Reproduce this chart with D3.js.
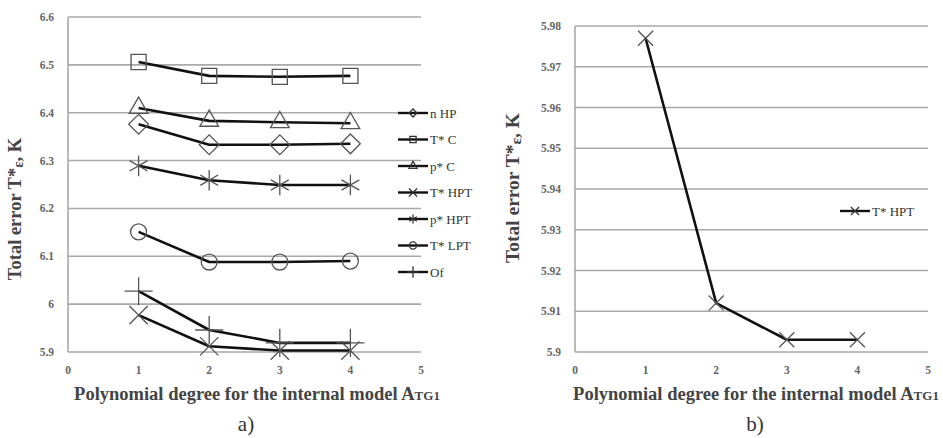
<!DOCTYPE html>
<html><head><meta charset="utf-8">
<script src="https://cdn.jsdelivr.net/npm/d3@7"></script>
<style>
html,body{margin:0;padding:0;background:#fff;}
svg text{font-family:"Liberation Serif","Times New Roman","DejaVu Serif",serif;}
</style></head>
<body><svg id="c" width="943" height="438"></svg>
<script>
// ---- data ----
const degrees = [1, 2, 3, 4];
const xTicks = [0, 1, 2, 3, 4, 5];
const yTicksA = [5.9, 6.0, 6.1, 6.2, 6.3, 6.4, 6.5, 6.6];
const yTickLabelsA = ["5.9", "6", "6.1", "6.2", "6.3", "6.4", "6.5", "6.6"];
const yTicksB = [5.9, 5.91, 5.92, 5.93, 5.94, 5.95, 5.96, 5.97, 5.98];
const yTickLabelsB = ["5.9", "5.91", "5.92", "5.93", "5.94", "5.95", "5.96", "5.97", "5.98"];
const seriesNames = ["n HP", "T* C", "p* C", "T* HPT", "p* HPT", "T* LPT", "Of"];
const nHP   = [6.376, 6.333, 6.333, 6.335];
const TC    = [6.506, 6.477, 6.475, 6.477];
const pC    = [6.410, 6.383, 6.380, 6.378];
const THPT  = [5.977, 5.912, 5.903, 5.903];
const pHPT  = [6.289, 6.259, 6.249, 6.249];
const TLPT  = [6.151, 6.088, 6.088, 6.090];
const Of    = [6.027, 5.946, 5.919, 5.919];
const seriesValues = [nHP, TC, pC, THPT, pHPT, TLPT, Of];
const seriesB = THPT;

const svg = d3.select("#c");
const FONT = '"Liberation Serif","Times New Roman","DejaVu Serif",serif';
const gridColor = "#a9a9a9";
const markerTypes = [d3.symbolDiamond2, d3.symbolSquare2, d3.symbolTriangle2, d3.symbolTimes, d3.symbolAsterisk, d3.symbolCircle, d3.symbolPlus];
const markerSizes = [250, 290, 250, 220, 300, 200, 260];
const legendSizes = [40, 50, 45, 45, 55, 40, 45];

function panel(opts){
  const x = d3.scaleLinear().domain([0,5]).range([opts.x0, opts.x1]);
  const y = d3.scaleLinear().domain(opts.ydom).range([opts.y0, opts.y1]);
  const g = svg.append("g").attr("font-family", FONT);
  g.selectAll(".grid").data(opts.yticks).join("line")
    .attr("x1", opts.x0).attr("x2", opts.x1)
    .attr("y1", d=>y(d)).attr("y2", d=>y(d))
    .attr("stroke", gridColor).attr("stroke-width", 1.6);
  g.append("line").attr("x1", opts.x0).attr("x2", opts.x0)
    .attr("y1", y(opts.ydom[0])).attr("y2", y(opts.ydom[1]))
    .attr("stroke", gridColor).attr("stroke-width", 1.6);
  g.selectAll(".yl").data(opts.yticks).join("text")
    .attr("x", opts.x0 - 14).attr("y", d=>y(d)+4)
    .attr("text-anchor","end").attr("font-size", 11.5).attr("font-weight","bold").attr("fill","#666")
    .attr("font-family", FONT)
    .text((d,i)=>opts.ylabels[i]);
  g.selectAll(".xl").data(xTicks).join("text")
    .attr("x", d=>x(d)).attr("y", y(opts.ydom[0])+22)
    .attr("text-anchor","middle").attr("font-size", 11.5).attr("font-weight","bold").attr("fill","#666")
    .attr("font-family", FONT)
    .text(d=>d);
  const xt = g.append("text").attr("x", opts.xtx).attr("y", 400)
    .attr("text-anchor","middle").attr("font-size", 18.5).attr("font-weight","bold").attr("fill","#444")
    .attr("font-family", FONT);
  xt.append("tspan").text("Polynomial  degree for the internal model A");
  xt.append("tspan").attr("font-size", 13).text("TG1");
  const yt = g.append("text").attr("transform", `translate(${opts.ytx},${opts.yty}) rotate(-90)`)
    .attr("text-anchor","middle").attr("font-size", opts.ytfs).attr("font-weight","bold").attr("fill","#444")
    .attr("font-family", FONT);
  yt.append("tspan").text("Total error T*");
  yt.append("tspan").attr("font-size", opts.ytfs*0.8).attr("dy", 2).text("ε");
  yt.append("tspan").attr("dy", -2).text(", K");
  g.append("text").attr("x", opts.capx).attr("y", 431).attr("text-anchor","middle")
    .attr("font-size", 21).attr("fill","#333").attr("font-family", FONT).text(opts.cap);
  return {x, y, g};
}

const A = panel({x0:68, x1:421, y0:352, y1:17, ydom:[5.9,6.6], yticks:yTicksA, ylabels:yTickLabelsA,
  ytx:21, yty:209, ytfs:18.5, capx:246, cap:"a)", xtx:257});
const B = panel({x0:575, x1:928, y0:352, y1:26, ydom:[5.9,5.98], yticks:yTicksB, ylabels:yTickLabelsB,
  ytx:519, yty:188, ytfs:19.5, capx:755, cap:"b)", xtx:756});

const line = (sc) => d3.line().x((d,i)=>sc.x(degrees[i])).y(d=>sc.y(d));

function drawSeries(sc, vals, k, size){
  sc.g.append("path").datum(vals).attr("d", line(sc)).attr("fill","none")
    .attr("stroke","#111").attr("stroke-width",2.6).attr("stroke-linejoin","round");
  sc.g.selectAll(null).data(vals).join("path")
    .attr("transform",(d,i)=>`translate(${sc.x(degrees[i])},${sc.y(d)})`)
    .attr("d", d3.symbol(markerTypes[k], size)())
    .attr("fill","none").attr("stroke","#555").attr("stroke-width",1.3);
}
seriesValues.forEach((v,k)=>drawSeries(A, v, k, markerSizes[k]));
drawSeries(B, seriesB, 3, 150);

function legendItem(g, x, y, k, name){
  g.append("line").attr("x1", x).attr("x2", x+30).attr("y1", y).attr("y2", y)
    .attr("stroke","#111").attr("stroke-width",2.4);
  g.append("path").attr("transform",`translate(${x+15},${y})`)
    .attr("d", d3.symbol(markerTypes[k], legendSizes[k])())
    .attr("fill","none").attr("stroke","#333").attr("stroke-width",1.3);
  g.append("text").attr("x", x+32).attr("y", y+4.5).attr("font-size", 13).attr("fill","#333")
    .attr("font-family", FONT).text(name);
}
const legendY0 = 113, legendStep = 26.5;
seriesNames.forEach((n,k)=>legendItem(A.g, 398, legendY0 + k*legendStep, k, n));
legendItem(B.g, 840, 211, 3, seriesNames[3]);
</script></body></html>
